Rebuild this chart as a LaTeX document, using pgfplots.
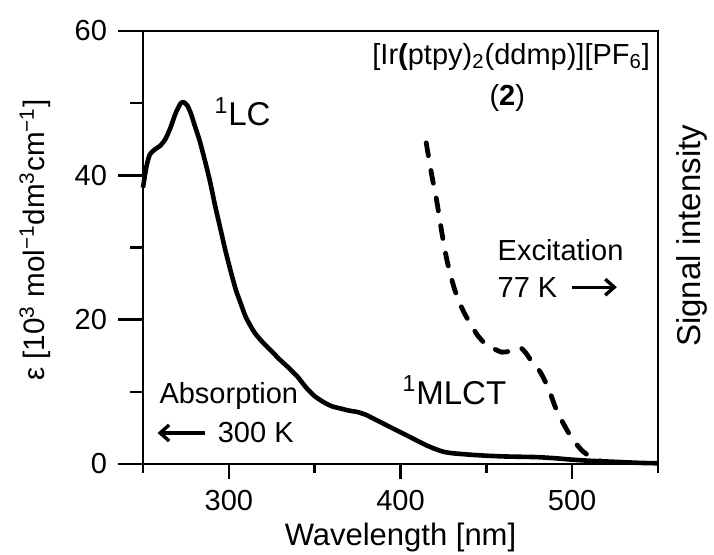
\documentclass[border=0pt]{standalone}
\usepackage{fontspec}
\setmainfont{Liberation Sans}
\usepackage{pgfplots}
\pgfplotsset{compat=1.18}
\usetikzlibrary{arrows.meta}

\newcommand{\tl}{\fontsize{14.5}{17}\selectfont}
\newcommand{\lb}{\fontsize{15.5}{18}\selectfont}

\begin{document}
\begin{tikzpicture}
% frame, y ticks and the curves
\begin{axis}[
    scale only axis,
    width=257.5pt,
    height=216.5pt,
    xmin=250, xmax=550,
    ymin=0, ymax=60,
    xtick=\empty,
    ytick={0,20,40,60},
    minor ytick={10,30,50},
    ytick pos=left,
    tick align=outside,
    major tick length=12.5pt,
    minor tick length=6.5pt,
    axis line style={line width=1.3pt},
    every tick/.style={black,line width=1.3pt},
    /pgf/number format/assume math mode=true,
    yticklabel={\tl\pgfmathprintnumber{\tick}},
    yticklabel style={xshift=-2pt},
    ylabel={\fontsize{14.8}{17}\selectfont ε [10\textsuperscript{3} mol\textsuperscript{−1}dm\textsuperscript{3}cm\textsuperscript{−1}]},
    every axis y label/.style={at={(axis description cs:-0.21,0.517)}, anchor=center, rotate=90},
    clip=false,
]
% absorption, 300 K
\addplot[black, line width=2.3pt, line join=round, smooth, tension=0.4] coordinates {
(250,38.3) (252,41.2) (254,42.9) (257,43.6) (260,44.1) (263,45.0) (266,46.6)
(269,48.6) (272,50.0) (274,50.1) (276,49.6) (278,48.5) (280,47.0) (283,44.8)
(286,42.1) (289,39.2) (292,35.8) (295,32.7) (298,29.6) (301,26.8) (304,24.2)
(307,22.2) (310,20.3) (315,18.2) (320,16.8) (325,15.6) (330,14.4) (335,13.3)
(340,12.1) (345,10.6) (350,9.4) (355,8.6) (360,8.0) (365,7.7) (370,7.4)
(375,7.2) (380,6.8) (385,6.2) (390,5.6) (395,5.0) (400,4.4) (405,3.8)
(410,3.2) (415,2.6) (420,2.1) (425,1.7) (430,1.5) (440,1.3) (450,1.15)
(460,1.05) (470,1.0) (480,0.95) (490,0.8) (500,0.6) (510,0.45) (520,0.35)
(530,0.25) (540,0.15) (550,0.1)
};
% excitation, 77 K
\addplot[black, line width=2.4pt, line cap=round, dash pattern=on 6.5pt off 7.5pt, smooth, tension=0.4] coordinates {
(415,44.5) (418,40.3) (421,36.6) (424,32.2) (427,28.3) (431,24.6) (434,22.6)
(437,21.0) (441,19.3) (445,17.8) (450,16.5) (455,15.9) (459,15.5) (463,15.6)
(467,16.0) (470,16.1) (473,15.4) (477,14.0) (481,12.9) (484,11.6) (487,10.0)
(490,8.0) (494,6.0) (498,4.3) (502,2.9) (506,1.8) (510,1.1) (514,0.6) (518,0.3)
};

\node[font=\fontsize{16.5}{18}\selectfont] at (axis cs:308,48.8) {\textsuperscript{1}LC};
\node[font=\fontsize{16.5}{18}\selectfont] at (axis cs:431.4,10.2) {\textsuperscript{1}MLCT};
\node[font=\fontsize{14.5}{17}\selectfont] at (axis cs:464.5,56.4)
  {[Ir\textbf{(}ptpy)\textsubscript{2}(ddmp)][PF\textsubscript{6}]};
\node[font=\fontsize{14.5}{17}\selectfont] at (axis cs:462.2,50.7) {(\textbf{2})};
\node[font=\fontsize{14.5}{17}\selectfont, anchor=west] at (axis cs:452.5,29.7) {Excitation};
\node[font=\fontsize{14.5}{17}\selectfont, anchor=west] at (axis cs:452.5,24.5) {77 K};
\draw[line width=1.7pt, -{Straight Barb[length=4.5pt,width=8pt,line width=1.7pt]}]
  (axis cs:500,24.5) -- (axis cs:526,24.5);
\node[font=\fontsize{14.5}{17}\selectfont, anchor=west] at (axis cs:255.5,9.4) {Absorption};
\node[font=\fontsize{14.5}{17}\selectfont, anchor=west] at (axis cs:289.5,4.3) {300 K};
\draw[line width=1.7pt, -{Straight Barb[length=4.5pt,width=8pt,line width=1.7pt]}]
  (axis cs:286,4.3) -- (axis cs:258.5,4.3);
\node[font=\fontsize{16.5}{19}\selectfont, rotate=90] at (axis description cs:1.066,0.527) {Signal intensity};
\end{axis}
% x ticks (shorter than the y ticks) and the x label
\begin{axis}[
    scale only axis,
    width=257.5pt,
    height=216.5pt,
    xmin=250, xmax=550,
    ymin=0, ymax=60,
    axis line style={draw=none},
    ytick=\empty,
    xtick={300,400,500},
    minor xtick={250,350,450,550},
    xtick pos=bottom,
    tick align=outside,
    major tick length=7.5pt,
    minor tick length=4.5pt,
    every tick/.style={black,line width=1.3pt},
    /pgf/number format/assume math mode=true,
    xticklabel={\tl\pgfmathprintnumber{\tick}},
    xticklabel style={yshift=-2pt},
    xlabel={\lb Wavelength [nm]},
    every axis x label/.style={at={(axis description cs:0.5,0)}, anchor=center, yshift=-36.5pt},
]
\end{axis}
\pgfresetboundingbox
\useasboundingbox (-71.5pt,-45pt) rectangle (285.5pt,232pt);
\end{tikzpicture}
\end{document}
